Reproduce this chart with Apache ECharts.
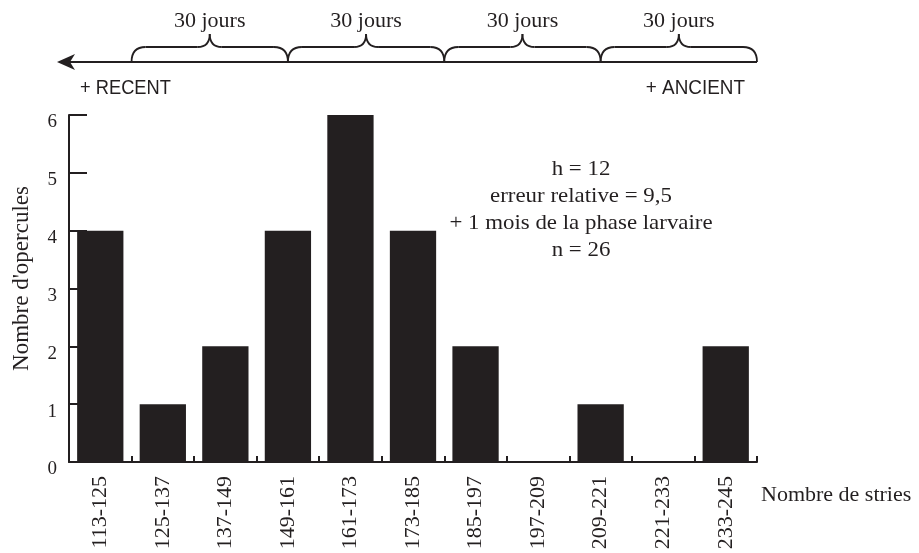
<!DOCTYPE html>
<html>
<head>
<meta charset="utf-8">
<script src="https://cdn.jsdelivr.net/npm/echarts@6/dist/echarts.min.js"></script>
<style>
html,body{margin:0;padding:0;background:#fff;}
#main{width:919px;height:553px;}
</style>
</head>
<body>
<div id="main"></div>
<script>
const categories = ['113-125','125-137','137-149','149-161','161-173','173-185','185-197','197-209','209-221','221-233','233-245'];
const counts = [4, 1, 2, 4, 6, 4, 2, 0, 1, 0, 2];
const yTicks = { min: 0, max: 6, interval: 1 };
const periodLabels = ['30 jours', '30 jours', '30 jours', '30 jours'];
const annotationLines = ['h = 12', 'erreur relative = 9,5', '+ 1 mois de la phase larvaire', 'n = 26'];
const leftLabel = '+ RECENT';
const rightLabel = '+ ANCIENT';

const SERIF = '"Liberation Serif", "Times New Roman", serif';
const SANS = '"Liberation Sans", Arial, sans-serif';
const INK = '#231f20';

const chart = echarts.init(document.getElementById('main'), null, { renderer: 'canvas' });

const option = {
  animation: false,
  backgroundColor: '#fff',
  grid: { left: 69, right: 162, top: 115, bottom: 91, containLabel: false },
  xAxis: {
    type: 'category',
    data: categories,
    boundaryGap: true,
    axisLine: { show: true, lineStyle: { color: INK, width: 2 } },
    axisTick: { show: true, inside: true, length: 6, lineStyle: { color: INK, width: 2 } },
    axisLabel: { rotate: 90, margin: 14, fontFamily: SERIF, fontSize: 22, color: INK, interval: 0 },
    name: 'Nombre de stries',
    nameLocation: 'end',
    nameGap: 4,
    nameTextStyle: { fontFamily: SERIF, fontSize: 22, color: INK, align: 'left', verticalAlign: 'top', padding: [22, 0, 0, 0] },
    splitLine: { show: false }
  },
  yAxis: {
    type: 'value',
    min: yTicks.min,
    max: yTicks.max,
    interval: yTicks.interval,
    axisLine: { show: true, lineStyle: { color: INK, width: 2 } },
    axisTick: { show: true, inside: true, length: 18, lineStyle: { color: INK, width: 2 } },
    axisLabel: { margin: 12, fontFamily: SERIF, fontSize: 19, color: INK, verticalAlign: 'top', lineHeight: 15 },
    splitLine: { show: false },
    name: "Nombre d'opercules",
    nameLocation: 'middle',
    nameRotate: 90,
    nameGap: 36,
    nameTextStyle: { fontFamily: SERIF, fontSize: 23, color: INK, padding: [0, 0, 0, 20] }
  },
  series: [{
    type: 'bar',
    data: counts,
    barWidth: '74%',
    itemStyle: { color: INK },
    z: 1
  }]
};
chart.setOption(option);

// Build the top timeline decoration from the axis geometry
const x0c = chart.convertToPixel({ xAxisIndex: 0 }, 0);
const x1c = chart.convertToPixel({ xAxisIndex: 0 }, 1);
const band = x1c - x0c;
const braceStart = x0c + band / 2;
const braceEnd = chart.convertToPixel({ xAxisIndex: 0 }, categories.length - 1) + band / 2;
const axisLeft = x0c - band / 2;
const lineY = 62;
const flatY = 47;
const cuspY = 34;
const seg = (braceEnd - braceStart) / periodLabels.length;

const stroke = { stroke: INK, lineWidth: 1.8, fill: null };
function quad(xa, ya, cx, cy, xb, yb) {
  return { type: 'bezierCurve', shape: { x1: xa, y1: ya, cpx1: cx, cpy1: cy, x2: xb, y2: yb }, style: stroke };
}
function seg2(xa, ya, xb, yb) {
  return { type: 'line', shape: { x1: xa, y1: ya, x2: xb, y2: yb }, style: stroke };
}

const graphics = [];
graphics.push({
  type: 'line',
  shape: { x1: axisLeft - 6, y1: lineY, x2: braceEnd, y2: lineY },
  style: { stroke: INK, lineWidth: 2 }
});
graphics.push({
  type: 'polygon',
  shape: { points: [[axisLeft - 12, lineY], [axisLeft + 6, lineY - 8], [axisLeft + 1, lineY], [axisLeft + 6, lineY + 8]] },
  style: { fill: INK }
});
periodLabels.forEach(function (lab, i) {
  const a = braceStart + i * seg;
  const b = a + seg;
  const m = (a + b) / 2;
  graphics.push(quad(a, lineY, a, flatY, a + 14, flatY));
  graphics.push(seg2(a + 14, flatY, m - 12, flatY));
  graphics.push(quad(m - 12, flatY, m, flatY, m, cuspY));
  graphics.push(quad(m, cuspY, m, flatY, m + 12, flatY));
  graphics.push(seg2(m + 12, flatY, b - 14, flatY));
  graphics.push(quad(b - 14, flatY, b, flatY, b, lineY));
  graphics.push({
    type: 'text',
    x: m, y: 21,
    style: { text: lab, font: '22px ' + SERIF, fill: INK, align: 'center', verticalAlign: 'middle' }
  });
});
graphics.push({
  type: 'text', x: axisLeft + 11, y: 88, scaleX: 0.87,
  style: { text: leftLabel, font: '21px ' + SANS, fill: INK, align: 'left', verticalAlign: 'middle' }
});
graphics.push({
  type: 'text', x: braceEnd - 12, y: 88, scaleX: 0.9,
  style: { text: rightLabel, font: '21px ' + SANS, fill: INK, align: 'right', verticalAlign: 'middle' }
});
graphics.push({
  type: 'text', x: 581, y: 156, scaleX: 1.04,
  style: {
    text: annotationLines.join('\n'),
    font: '22px ' + SERIF, fill: INK, align: 'center', verticalAlign: 'top', lineHeight: 27
  }
});

chart.setOption({ graphic: graphics });
</script>
</body>
</html>
